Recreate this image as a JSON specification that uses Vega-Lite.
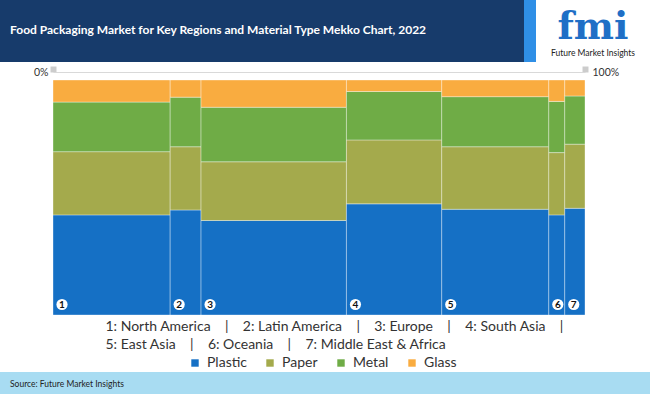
{
  "$schema": "https://vega.github.io/schema/vega-lite/v6.json",
  "padding": 0,
  "background": "white",
  "spacing": 0,
  "config": {"font": "Lato", "view": {"stroke": null}, "concat": {"spacing": 0}},
  "resolve": {"legend": {"color": "independent"}, "scale": {"color": "independent"}},
  "datasets": {
    "mekko": [
      {"region": "North America", "idx": 1, "regionShare": 22.0, "material": "Plastic", "mOrder": 1, "share": 42.6},
      {"region": "North America", "idx": 1, "regionShare": 22.0, "material": "Paper", "mOrder": 2, "share": 26.9},
      {"region": "North America", "idx": 1, "regionShare": 22.0, "material": "Metal", "mOrder": 3, "share": 21.1},
      {"region": "North America", "idx": 1, "regionShare": 22.0, "material": "Glass", "mOrder": 4, "share": 9.4},
      {"region": "Latin America", "idx": 2, "regionShare": 5.8, "material": "Plastic", "mOrder": 1, "share": 44.7},
      {"region": "Latin America", "idx": 2, "regionShare": 5.8, "material": "Paper", "mOrder": 2, "share": 26.9},
      {"region": "Latin America", "idx": 2, "regionShare": 5.8, "material": "Metal", "mOrder": 3, "share": 21.1},
      {"region": "Latin America", "idx": 2, "regionShare": 5.8, "material": "Glass", "mOrder": 4, "share": 7.3},
      {"region": "Europe", "idx": 3, "regionShare": 27.3, "material": "Plastic", "mOrder": 1, "share": 40.2},
      {"region": "Europe", "idx": 3, "regionShare": 27.3, "material": "Paper", "mOrder": 2, "share": 25.0},
      {"region": "Europe", "idx": 3, "regionShare": 27.3, "material": "Metal", "mOrder": 3, "share": 23.2},
      {"region": "Europe", "idx": 3, "regionShare": 27.3, "material": "Glass", "mOrder": 4, "share": 11.6},
      {"region": "South Asia", "idx": 4, "regionShare": 17.9, "material": "Plastic", "mOrder": 1, "share": 47.3},
      {"region": "South Asia", "idx": 4, "regionShare": 17.9, "material": "Paper", "mOrder": 2, "share": 27.2},
      {"region": "South Asia", "idx": 4, "regionShare": 17.9, "material": "Metal", "mOrder": 3, "share": 20.6},
      {"region": "South Asia", "idx": 4, "regionShare": 17.9, "material": "Glass", "mOrder": 4, "share": 4.9},
      {"region": "East Asia", "idx": 5, "regionShare": 20.1, "material": "Plastic", "mOrder": 1, "share": 45.0},
      {"region": "East Asia", "idx": 5, "regionShare": 20.1, "material": "Paper", "mOrder": 2, "share": 26.6},
      {"region": "East Asia", "idx": 5, "regionShare": 20.1, "material": "Metal", "mOrder": 3, "share": 21.3},
      {"region": "East Asia", "idx": 5, "regionShare": 20.1, "material": "Glass", "mOrder": 4, "share": 7.1},
      {"region": "Oceania", "idx": 6, "regionShare": 3.0, "material": "Plastic", "mOrder": 1, "share": 42.6},
      {"region": "Oceania", "idx": 6, "regionShare": 3.0, "material": "Paper", "mOrder": 2, "share": 26.5},
      {"region": "Oceania", "idx": 6, "regionShare": 3.0, "material": "Metal", "mOrder": 3, "share": 21.8},
      {"region": "Oceania", "idx": 6, "regionShare": 3.0, "material": "Glass", "mOrder": 4, "share": 9.1},
      {"region": "Middle East & Africa", "idx": 7, "regionShare": 3.8, "material": "Plastic", "mOrder": 1, "share": 45.4},
      {"region": "Middle East & Africa", "idx": 7, "regionShare": 3.8, "material": "Paper", "mOrder": 2, "share": 27.3},
      {"region": "Middle East & Africa", "idx": 7, "regionShare": 3.8, "material": "Metal", "mOrder": 3, "share": 20.5},
      {"region": "Middle East & Africa", "idx": 7, "regionShare": 3.8, "material": "Glass", "mOrder": 4, "share": 6.8}
    ]
  },
  "vconcat": [
    {
      "spacing": 0,
      "hconcat": [
        {
          "width": 524, "height": 62,
          "view": {"fill": "#173b6b", "stroke": null},
          "data": {"values": [{}]},
          "mark": {"type": "point", "opacity": 0},
          "encoding": {},
          "title": {
            "text": "Food Packaging Market for Key Regions and Material Type Mekko Chart, 2022",
            "anchor": "start", "dx": 10, "offset": -37,
            "font": "Lato", "fontSize": 12, "fontWeight": "bold", "color": "white"
          }
        },
        {
          "width": 12, "height": 62,
          "view": {"fill": "#2f8fe6", "stroke": null},
          "data": {"values": [{}]},
          "mark": {"type": "point", "opacity": 0},
          "encoding": {}
        },
        {
          "width": 114, "height": 62,
          "view": {"fill": "white", "stroke": null},
          "data": {"values": [{}]},
          "mark": {"type": "point", "opacity": 0},
          "encoding": {},
          "title": {
            "text": "fmi",
            "subtitle": "Future Market Insights",
            "anchor": "middle", "offset": -57,
            "font": "DejaVu Serif", "fontSize": 38, "fontWeight": "bold", "color": "#1f6fc6",
            "subtitleFont": "Lato", "subtitleFontSize": 8.5, "subtitleColor": "#222222", "subtitlePadding": 2
          }
        }
      ]
    },
    {
      "spacing": 0,
      "bounds": "flush",
      "resolve": {"legend": {"color": "independent"}, "scale": {"color": "independent"}},
      "hconcat": [
        {
          "width": 53, "height": 235,
          "data": {"values": [{}]},
          "mark": {"type": "point", "opacity": 0},
          "encoding": {}
        },
        {
          "width": 532, "height": 235,
          "data": {"name": "mekko"},
          "transform": [
            {"stack": "regionShare", "groupby": ["material"], "sort": [{"field": "idx", "order": "ascending"}], "as": ["x0", "x1"], "offset": "normalize"},
            {"stack": "share", "groupby": ["region"], "sort": [{"field": "mOrder", "order": "ascending"}], "as": ["y0", "y1"], "offset": "normalize"}
          ],
          "layer": [
            {
              "mark": {"type": "rect", "stroke": "white", "strokeWidth": 1, "strokeOpacity": 0.35},
              "encoding": {
                "x": {
                  "field": "x0", "type": "quantitative", "scale": {"domain": [0, 1], "nice": false, "zero": true},
                  "axis": {
                    "orient": "top", "values": [0, 1], "format": ".0%", "grid": false,
                    "offset": 8, "minExtent": 10, "maxExtent": 10,
                    "domainColor": "#d9d9d9", "domainWidth": 1,
                    "tickColor": "#cccccc", "tickSize": 6, "tickWidth": 6,
                    "labelFontSize": 10.5, "labelColor": "#333333", "labelFont": "Lato",
                    "labelBaseline": "middle", "labelPadding": -6,
                    "labelAlign": {"condition": {"test": "datum.value == 0", "value": "right"}, "value": "left"},
                    "labelOffset": {"condition": {"test": "datum.value == 0", "value": -5}, "value": 7},
                    "title": null
                  }
                },
                "x2": {"field": "x1"},
                "y": {
                  "field": "y0", "type": "quantitative", "scale": {"domain": [0, 1], "nice": false},
                  "axis": null
                },
                "y2": {"field": "y1"},
                "color": {
                  "field": "material", "type": "nominal",
                  "scale": {"domain": ["Plastic", "Paper", "Metal", "Glass"], "range": ["#1570c5", "#a4aa4c", "#6fac46", "#f9ac40"]},
                  "legend": {
                    "orient": "none", "legendX": 133, "legendY": 274, "padding": 2,
                    "direction": "horizontal", "title": null,
                    "symbolType": "square", "symbolSize": 55, "symbolStrokeWidth": 0,
                    "labelFontSize": 14, "labelFont": "Lato", "labelColor": "#333333",
                    "labelOffset": 5, "columnPadding": 16
                  }
                }
              }
            },
            {
              "transform": [{"filter": "datum.material == 'Plastic'"}],
              "mark": {"type": "point", "filled": true, "color": "white", "opacity": 1, "size": 125, "xOffset": 9, "yOffset": -10.5},
              "encoding": {
                "x": {
                  "field": "x0", "type": "quantitative",
                  "axis": {
                    "orient": "bottom", "labels": false, "ticks": false, "domain": false, "grid": false,
                    "title": ["1: North America\u00a0\u00a0\u00a0\u00a0|\u00a0\u00a0\u00a0\u00a02: Latin America\u00a0\u00a0\u00a0\u00a0|\u00a0\u00a0\u00a0\u00a03: Europe\u00a0\u00a0\u00a0\u00a0|\u00a0\u00a0\u00a0\u00a04: South Asia\u00a0\u00a0\u00a0\u00a0|", "5: East Asia\u00a0\u00a0\u00a0\u00a0|\u00a0\u00a0\u00a0\u00a06: Oceania\u00a0\u00a0\u00a0\u00a0|\u00a0\u00a0\u00a0\u00a07: Middle East & Africa"],
                    "titleFont": "Lato", "titleFontSize": 14, "titleFontWeight": "normal", "titleColor": "#333333",
                    "titleAnchor": "start", "titleAlign": "left", "titleX": 52, "titlePadding": 4, "titleLineHeight": 18
                  }
                },
                "y": {"datum": 0, "type": "quantitative", "axis": null}
              }
            },
            {
              "transform": [{"filter": "datum.material == 'Plastic'"}],
              "mark": {"type": "text", "fontWeight": "bold", "fontSize": 10, "color": "#111111", "xOffset": 9, "yOffset": -10.5, "baseline": "middle", "align": "center"},
              "encoding": {
                "x": {"field": "x0", "type": "quantitative", "axis": null},
                "y": {"datum": 0, "type": "quantitative", "axis": null},
                "text": {"field": "idx", "type": "nominal"}
              }
            }
          ],
          "resolve": {"axis": {"x": "independent", "y": "independent"}}
        }
      ]
    },
    {
      "width": 650, "height": 22,
      "view": {"fill": "#a8dcf2", "stroke": null},
      "data": {"values": [{}]},
      "mark": {"type": "point", "opacity": 0},
      "encoding": {},
      "title": {
        "text": "Source: Future Market Insights",
        "anchor": "start", "dx": 10, "offset": -16,
        "font": "Lato", "fontSize": 8.5, "fontWeight": "normal", "color": "#222222"
      }
    }
  ]
}
